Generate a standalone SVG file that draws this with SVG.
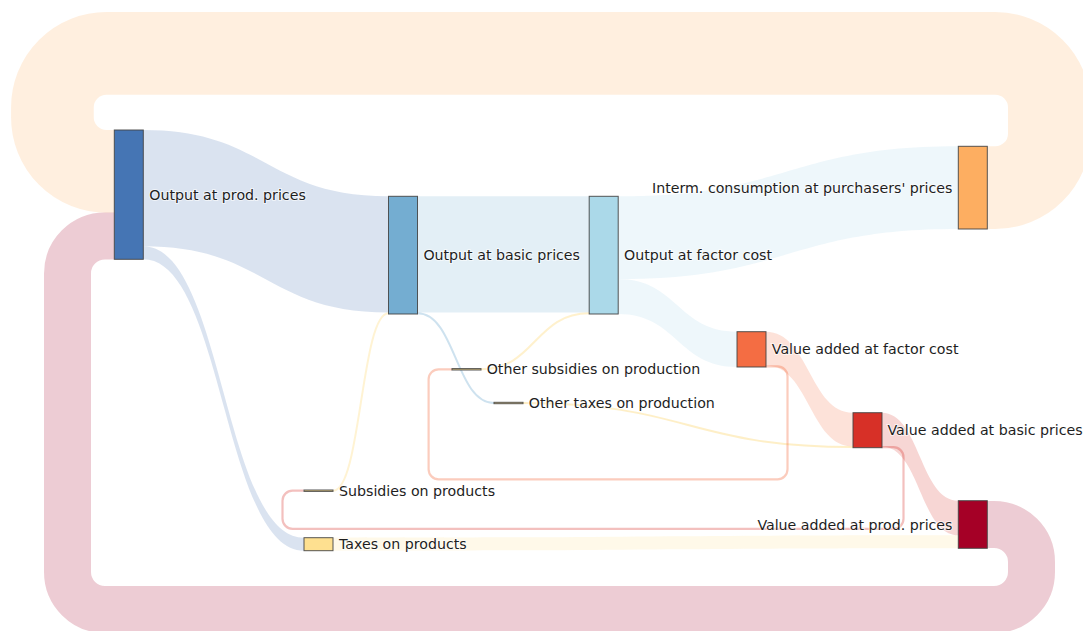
<svg xmlns="http://www.w3.org/2000/svg" width="1083" height="631" viewBox="0 0 1083 631">
  <style>
    .lbl { font-family: "DejaVu Sans", Verdana, sans-serif; font-size: 14.2px; fill: #1e1e1e; dominant-baseline: central; stroke: #fff; stroke-width: 2; stroke-opacity: 0.6; paint-order: stroke; }
    .end { text-anchor: end; }
    .node { stroke: #444; stroke-width: 1; stroke-opacity: 0.9; }
    .band { stroke: none; }
    .loop { fill: none; }
    .thin { fill: none; }
  </style>
  <rect width="1083" height="631" fill="#ffffff"/>
  <g id="connectors">
    <!-- circular: Interm. consumption -> Output at prod. prices -->
    <path class="loop" d="M987.4,187.65 L995.35,187.65 A54,54 0 0 0 1049.35,133.65 L1049.35,107.35 A54,54 0 0 0 995.35,53.35 L106.4,53.35 A54,54 0 0 0 52.4,107.35 L52.4,117.35 A54,54 0 0 0 106.4,171.35 L114.3,171.35" stroke="#fdae61" stroke-opacity="0.2" stroke-width="82.7"/>
    <!-- circular: Value added at prod. prices -> Output at prod. prices -->
    <path class="loop" d="M987.3,524.5 L994,524.5 A37.5,37.5 0 0 1 1031.5,562 L1031.5,572 A37.5,37.5 0 0 1 994,609.5 L105,609.5 A37.5,37.5 0 0 1 67.5,572 L67.5,273.5 A37.5,37.5 0 0 1 105,236 L114.3,236" stroke="#a50026" stroke-opacity="0.2" stroke-width="47"/>
    <!-- Output at prod. prices -> Output at basic prices -->
    <path class="band" d="M143.3,130 C266,130 266,196.3 388.5,196.3 L388.5,312.6 C266,312.6 266,246.3 143.3,246.3 Z" fill="#4575b4" fill-opacity="0.2"/>
    <!-- Output at prod. prices -> Taxes on products -->
    <path class="band" d="M143.3,246.3 C223.5,246.3 223.5,537.7 304,537.7 L304,550.7 C223.5,550.7 223.5,259.3 143.3,259.3 Z" fill="#4575b4" fill-opacity="0.2"/>
    <!-- Output at basic prices -> Output at factor cost -->
    <path class="band" d="M417.4,196.3 C503,196.3 503,196.3 589.2,196.3 L589.2,312.6 C503,312.6 503,312.6 417.4,312.6 Z" fill="#74add1" fill-opacity="0.2"/>
    <!-- Output at factor cost -> Interm. consumption -->
    <path class="band" d="M617.9,196.3 C788,196.3 788,146.3 958.3,146.3 L958.3,229 C788,229 788,279 617.9,279 Z" fill="#abd9e9" fill-opacity="0.2"/>
    <!-- Output at factor cost -> Value added at factor cost -->
    <path class="band" d="M617.9,279 C677.5,279 677.5,331.7 737,331.7 L737,367 C677.5,367 677.5,314 617.9,314 Z" fill="#abd9e9" fill-opacity="0.2"/>
    <!-- Value added at factor cost -> Value added at basic prices -->
    <path class="band" d="M765.7,331.7 C809.5,331.7 809.5,412.7 853,412.7 L853,446.5 C809.5,446.5 809.5,365.5 765.7,365.5 Z" fill="#f46d43" fill-opacity="0.2"/>
    <!-- Value added at basic prices -> Value added at prod. prices -->
    <path class="band" d="M881.7,412.7 C920,412.7 920,500.7 958.3,500.7 L958.3,535.3 C920,535.3 920,446.6 881.7,446.6 Z" fill="#d73027" fill-opacity="0.2"/>
    <!-- Taxes on products -> Value added at prod. prices -->
    <path class="band" d="M333.2,537.7 C645.7,537.7 645.7,535.3 958.3,535.3 L958.3,548.3 C645.7,548.3 645.7,550.7 333.2,550.7 Z" fill="#fee090" fill-opacity="0.2"/>
    <!-- thin links -->
    <path class="thin" d="M333.2,490.7 C361,490.7 361,313.3 388.5,313.3" stroke="#fee090" stroke-opacity="0.4" stroke-width="2"/>
    <path class="thin" d="M417.4,313.3 C455.7,313.3 455.7,403 494,403" stroke="#74add1" stroke-opacity="0.35" stroke-width="2"/>
    <path class="thin" d="M480.7,369.3 C535,369.3 535,313.3 589.2,313.3" stroke="#fee090" stroke-opacity="0.45" stroke-width="2"/>
    <path class="thin" d="M523,403 C688,403 688,447 853,447" stroke="#fee090" stroke-opacity="0.5" stroke-width="2"/>
    <!-- circular thin: Value added at factor cost -> Other subsidies on production -->
    <path class="thin" d="M765.7,366.3 L777.5,366.3 A10,10 0 0 1 787.5,376.3 L787.5,469.3 A10,10 0 0 1 777.5,479.3 L438.6,479.3 A10,10 0 0 1 428.6,469.3 L428.6,379.3 A10,10 0 0 1 438.6,369.3 L452,369.3" stroke="#f46d43" stroke-opacity="0.35" stroke-width="2.2"/>
    <!-- circular thin: Value added at basic prices -> Subsidies on products -->
    <path class="thin" d="M881.7,447.2 L893.5,447.2 A10,10 0 0 1 903.5,457.2 L903.5,518.8 A10,10 0 0 1 893.5,528.8 L292.5,528.8 A10,10 0 0 1 282.5,518.8 L282.5,500.7 A10,10 0 0 1 292.5,490.7 L303.6,490.7" stroke="#d73027" stroke-opacity="0.3" stroke-width="2.2"/>
  </g>
  <g id="node-output-prod">
    <rect class="node" x="114.3" y="130" width="29" height="129.3" fill="#4575b4"/>
    <text class="lbl" x="149.3" y="194.6">Output at prod. prices</text>
  </g>
  <g id="node-output-basic">
    <rect class="node" x="388.5" y="196.3" width="29" height="117.7" fill="#74add1"/>
    <text class="lbl" x="423.4" y="255.2">Output at basic prices</text>
  </g>
  <g id="node-output-factor">
    <rect class="node" x="589.2" y="196.3" width="29" height="117.7" fill="#abd9e9"/>
    <text class="lbl" x="624" y="255.2">Output at factor cost</text>
  </g>
  <g id="node-interm">
    <rect class="node" x="958.3" y="146.3" width="29" height="82.7" fill="#fdae61"/>
    <text class="lbl end" x="952.5" y="187.7">Interm. consumption at purchasers' prices</text>
  </g>
  <g id="node-va-factor">
    <rect class="node" x="737" y="331.7" width="29" height="35.3" fill="#f46d43"/>
    <text class="lbl" x="771.8" y="349.3">Value added at factor cost</text>
  </g>
  <g id="node-va-basic">
    <rect class="node" x="853" y="412.7" width="29" height="35" fill="#d73027"/>
    <text class="lbl" x="887.5" y="430.2">Value added at basic prices</text>
  </g>
  <g id="node-va-prod">
    <rect class="node" x="958.3" y="500.7" width="29" height="47.6" fill="#a50026"/>
    <text class="lbl end" x="952.5" y="524.5">Value added at prod. prices</text>
  </g>
  <g id="node-other-subsidies">
    <rect class="node" x="452" y="368.6" width="29" height="1.4" fill="#fee090"/>
    <text class="lbl" x="486.7" y="369.3">Other subsidies on production</text>
  </g>
  <g id="node-other-taxes">
    <rect class="node" x="494" y="402.3" width="29" height="1.4" fill="#fee090"/>
    <text class="lbl" x="528.8" y="403">Other taxes on production</text>
  </g>
  <g id="node-subsidies-products">
    <rect class="node" x="304" y="490" width="29" height="1.4" fill="#fee090"/>
    <text class="lbl" x="339" y="490.7">Subsidies on products</text>
  </g>
  <g id="node-taxes-products">
    <rect class="node" x="304" y="537.7" width="29" height="13" fill="#fee090"/>
    <text class="lbl" x="339" y="544.2">Taxes on products</text>
  </g>
</svg>
